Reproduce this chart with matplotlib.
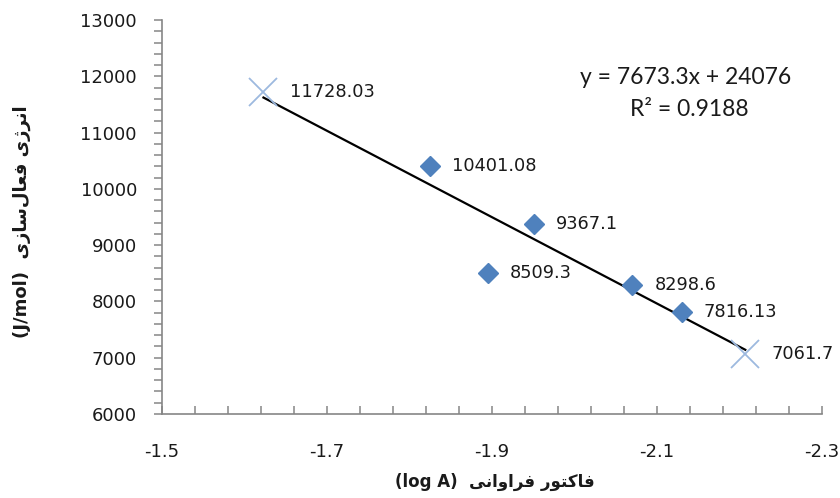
import matplotlib
matplotlib.use("Agg")
import matplotlib.pyplot as plt
from matplotlib.ticker import MultipleLocator, FixedLocator, FuncFormatter
import numpy as np

# ---- data ----
diamond_x = [-1.825, -1.951, -1.895, -2.070, -2.130]
diamond_y = [10401.08, 9367.1, 8509.3, 8298.6, 7816.13]
diamond_labels = ["10401.08", "9367.1", "8509.3", "8298.6", "7816.13"]

cross_x = [-1.623, -2.207]
cross_y = [11728.03, 7061.7]
cross_labels = ["11728.03", "7061.7"]

slope = 7673.3
intercept = 24076
eq_text = "y = 7673.3x + 24076"
r2_text = "R\u00b2 = 0.9188"

x_ticks = [-1.5, -1.7, -1.9, -2.1, -2.3]
y_ticks = [6000, 7000, 8000, 9000, 10000, 11000, 12000, 13000]

# Persian labels, pre-shaped (presentation forms) in visual order
x_label = "(log A)  " + "\uFBFD\uFEE7\uFE8D\uFEED\uFE8D\uFEAE\uFED3" + " " + "\uFEAD\uFEEE\uFE98\uFB90\uFE8E\uFED3"
y_label = "(J/mol)  " + "\uFBFC\uFEAF\uFE8E\uFEB3\uFEDD\uFE8E\uFECC\uFED3" + " " + "\uFBFC\uFB8A\uFEAE\uFEE7\uFE8D"

# ---- figure ----
fig = plt.figure(figsize=(8.4, 4.98), dpi=100)
ax = fig.add_axes([162 / 840, 1 - 414 / 498, 660 / 840, 394 / 498])

ax.set_xlim(-1.5, -2.3)
ax.set_ylim(6000, 13000)

# trendline over data range
all_x = diamond_x + cross_x
xl = np.array([max(all_x), min(all_x)])
ax.plot(xl, slope * xl + intercept, color="black", lw=1.6, zorder=2)

ax.plot(diamond_x, diamond_y, linestyle="none", marker="D", markersize=10,
        color="#4F81BD", markeredgecolor="#4F81BD", zorder=3)
ax.plot(cross_x, cross_y, linestyle="none", marker="x", markersize=20,
        markeredgewidth=1.3, color="#9DB9DF", zorder=3)

lab_font = dict(fontsize=12.8, family="DejaVu Sans", color="#1a1a1a", va="center")
for x, y, t in zip(diamond_x, diamond_y, diamond_labels):
    ax.annotate(t, (x, y), xytext=(16, 0), textcoords="offset points", **lab_font)
for x, y, t in zip(cross_x, cross_y, cross_labels):
    ax.annotate(t, (x, y), xytext=(19, 0), textcoords="offset points", **lab_font)

# equation
fig.text(686 / 840, 1 - 78 / 498, eq_text, ha="center", va="center",
         fontsize=16.5, family="Lato", color="#1a1a1a")
fig.text(689 / 840, 1 - 110 / 498, r2_text, ha="center", va="center",
         fontsize=16.5, family="Lato", color="#1a1a1a")

# spines
for s in ["top", "right"]:
    ax.spines[s].set_visible(False)
for s in ["left", "bottom"]:
    ax.spines[s].set_color("#868686")
    ax.spines[s].set_linewidth(1.2)

ax.set_xticks(x_ticks)
ax.set_yticks(y_ticks)
ax.xaxis.set_minor_locator(FixedLocator(np.linspace(-1.5, -2.3, 21)))
ax.yaxis.set_minor_locator(MultipleLocator(200))
ax.xaxis.set_major_formatter(FuncFormatter(lambda v, p: f"{v:g}"))

ax.tick_params(axis="x", which="both", direction="in", length=6, width=1.1,
               color="#868686", labelsize=13, labelcolor="#1a1a1a", pad=21)
ax.tick_params(axis="y", which="both", direction="out", length=6, width=1.1,
               color="#868686", labelsize=13, labelcolor="#1a1a1a", pad=12)

fig.text(495 / 840, 1 - 482 / 498, x_label, ha="center", va="center",
         fontsize=12, fontweight="bold", family="DejaVu Sans", color="#1a1a1a")
fig.text(22 / 840, 1 - 222 / 498, y_label, ha="center", va="center", rotation=90,
         fontsize=13, fontweight="bold", family="DejaVu Sans", color="#1a1a1a")

fig.savefig("out.png", dpi=100)
